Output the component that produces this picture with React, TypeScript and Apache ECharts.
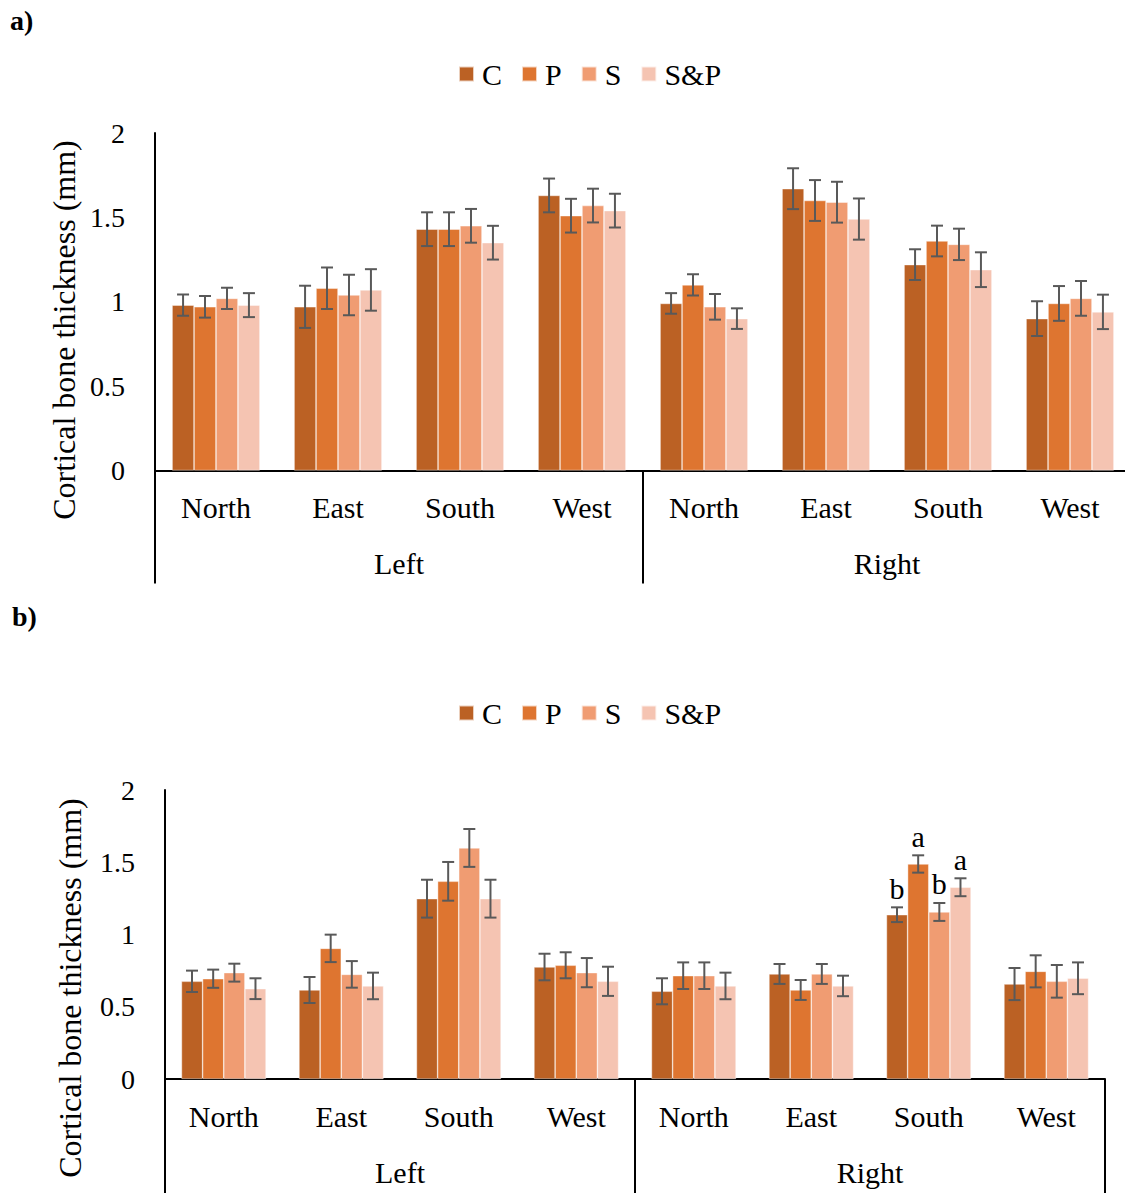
import React, { useEffect, useRef } from "react";
import * as echarts from "echarts";

const subCategories = ["North", "East", "South", "West", "North", "East", "South", "West"];
const groupCategories = ["Left", "Right"];
const seriesNames = ["C", "P", "S", "S&P"];
const colors = ["#BB6124", "#DE7530", "#F09C72", "#F5C4B2"];
const yTicks = [0, 0.5, 1, 1.5, 2];

// Chart a)
const aC = [0.98, 0.97, 1.43, 1.63, 0.99, 1.67, 1.22, 0.90];
const aP = [0.97, 1.08, 1.43, 1.51, 1.10, 1.60, 1.36, 0.99];
const aS = [1.02, 1.04, 1.45, 1.57, 0.97, 1.59, 1.34, 1.02];
const aSP = [0.98, 1.07, 1.35, 1.54, 0.90, 1.49, 1.19, 0.94];
const aCErr = [0.063, 0.125, 0.10, 0.10, 0.061, 0.121, 0.091, 0.103];
const aPErr = [0.064, 0.123, 0.10, 0.10, 0.063, 0.121, 0.091, 0.103];
const aSErr = [0.063, 0.12, 0.10, 0.10, 0.076, 0.121, 0.093, 0.103];
const aSPErr = [0.071, 0.123, 0.10, 0.10, 0.061, 0.122, 0.103, 0.102];

// Chart b)
const bC = [0.676, 0.616, 1.248, 0.775, 0.607, 0.727, 1.137, 0.657];
const bP = [0.694, 0.904, 1.368, 0.787, 0.715, 0.616, 1.488, 0.745];
const bS = [0.736, 0.724, 1.599, 0.736, 0.715, 0.727, 1.156, 0.676];
const bSP = [0.625, 0.644, 1.248, 0.676, 0.644, 0.644, 1.327, 0.697];
const bCErr = [0.074, 0.09, 0.131, 0.092, 0.09, 0.069, 0.051, 0.111];
const bPErr = [0.063, 0.095, 0.134, 0.09, 0.092, 0.069, 0.06, 0.111];
const bSErr = [0.062, 0.092, 0.131, 0.101, 0.092, 0.069, 0.062, 0.113];
const bSPErr = [0.072, 0.092, 0.131, 0.101, 0.092, 0.071, 0.062, 0.11];
const bCLetters = ["", "", "", "", "", "", "b", ""];
const bPLetters = ["", "", "", "", "", "", "a", ""];
const bSLetters = ["", "", "", "", "", "", "b", ""];
const bSPLetters = ["", "", "", "", "", "", "a", ""];
const noLetters = ["", "", "", "", "", "", "", ""];

const FONT = '"Liberation Serif", "Times New Roman", serif';
const GAP = 0.28;

export default function App() {
  const ref = useRef<HTMLDivElement>(null);

  useEffect(() => {
    if (!ref.current) return;
    const chart = echarts.init(ref.current, null, { renderer: "svg" });

    const charts = [
      {
        vals: [aC, aP, aS, aSP],
        errs: [aCErr, aPErr, aSErr, aSPErr],
        letters: [noLetters, noLetters, noLetters, noLetters],
        grid: { left: 155, width: 976, top: 133, height: 337.5 },
        tickLen: 113,
        legendTop: 54,
      },
      {
        vals: [bC, bP, bS, bSP],
        errs: [bCErr, bPErr, bSErr, bSPErr],
        letters: [bCLetters, bPLetters, bSLetters, bSPLetters],
        grid: { left: 165, width: 940, top: 790, height: 289 },
        tickLen: 114,
        legendTop: 693,
      },
    ];

    const grids: any[] = [];
    const xAxes: any[] = [];
    const yAxes: any[] = [];
    const series: any[] = [];
    const legends: any[] = [];

    charts.forEach((c, gi) => {
      grids.push({ ...c.grid, containLabel: false });
      xAxes.push({
        type: "category",
        gridIndex: gi,
        data: subCategories,
        position: "bottom",
        axisLine: { show: true, lineStyle: { color: "#000", width: 2 } },
        axisTick: { show: false },
        axisLabel: { interval: 0, color: "#000", fontFamily: FONT, fontSize: 30, margin: 22 },
      });
      xAxes.push({
        type: "category",
        gridIndex: gi,
        data: groupCategories,
        position: "bottom",
        offset: 0,
        axisLine: { show: false },
        axisTick: { show: true, length: c.tickLen, interval: 0, lineStyle: { color: "#000", width: 2 } },
        axisLabel: { interval: 0, color: "#000", fontFamily: FONT, fontSize: 30, margin: 78 },
      });
      yAxes.push({
        type: "value",
        gridIndex: gi,
        min: yTicks[0],
        max: yTicks[yTicks.length - 1],
        interval: 0.5,
        axisLine: { show: true, lineStyle: { color: "#000", width: 2 } },
        axisTick: { show: false },
        splitLine: { show: false },
        axisLabel: { color: "#000", fontFamily: FONT, fontSize: 28, margin: 30 },
      });
      seriesNames.forEach((name, si) => {
        series.push({
          type: "bar",
          name,
          xAxisIndex: gi * 2,
          yAxisIndex: gi,
          data: c.vals[si],
          barGap: "0%",
          barCategoryGap: GAP * 100 + "%",
          itemStyle: { color: colors[si], borderColor: "rgba(255,255,255,0.7)", borderWidth: 0.6 },
        });
      });
      const errData: number[][] = [];
      for (let s = 0; s < 4; s++) {
        for (let i = 0; i < subCategories.length; i++) {
          errData.push([i, c.vals[s][i], c.errs[s][i], s]);
        }
      }
      const letters = c.letters;
      series.push({
        type: "custom",
        xAxisIndex: gi * 2,
        yAxisIndex: gi,
        z: 10,
        silent: true,
        encode: { x: 0, y: 1 },
        data: errData,
        renderItem: (params: any, api: any) => {
          const ci = api.value(0);
          const v = api.value(1);
          const e = api.value(2);
          const s = api.value(3);
          const band = api.size([1, 0])[0];
          const groupW = band * (1 - GAP);
          const bw = groupW / 4;
          const top = api.coord([ci, v + e]);
          const bot = api.coord([ci, v - e]);
          const x = top[0] - groupW / 2 + bw * (s + 0.5);
          const cap = 6;
          const style = { stroke: "#595959", lineWidth: 2 };
          const children: any[] = [
            { type: "line", shape: { x1: x, y1: top[1], x2: x, y2: bot[1] }, style },
            { type: "line", shape: { x1: x - cap, y1: top[1], x2: x + cap, y2: top[1] }, style },
            { type: "line", shape: { x1: x - cap, y1: bot[1], x2: x + cap, y2: bot[1] }, style },
          ];
          const letter = letters[s][ci];
          if (letter) {
            children.push({
              type: "text",
              x,
              y: top[1] - 4,
              style: {
                text: letter,
                fill: "#000",
                font: `30px ${FONT}`,
                align: "center",
                verticalAlign: "bottom",
              },
            });
          }
          return { type: "group", children };
        },
      });
      legends.push({
        left: 453,
        top: c.legendTop,
        orient: "horizontal",
        data: seriesNames,
        icon: "rect",
        itemWidth: 15,
        itemHeight: 15,
        itemGap: 19,
        selectedMode: false,
        textStyle: { color: "#000", fontFamily: FONT, fontSize: 30, padding: [0, 0, 0, 3] },
      });
    });

    chart.setOption({
      animation: false,
      backgroundColor: "#fff",
      grid: grids,
      xAxis: xAxes,
      yAxis: yAxes,
      legend: legends,
      series,
      graphic: [
        {
          type: "text",
          left: 10,
          top: 6,
          style: { text: "a)", fill: "#000", font: `bold 28px ${FONT}` },
        },
        {
          type: "text",
          left: 12,
          top: 602,
          style: { text: "b)", fill: "#000", font: `bold 28px ${FONT}` },
        },
        {
          type: "text",
          x: 64,
          y: 330,
          rotation: Math.PI / 2,
          style: {
            text: "Cortical bone thickness (mm)",
            fill: "#000",
            font: `32px ${FONT}`,
            align: "center",
            verticalAlign: "middle",
          },
        },
        {
          type: "text",
          x: 70,
          y: 988,
          rotation: Math.PI / 2,
          style: {
            text: "Cortical bone thickness (mm)",
            fill: "#000",
            font: `32px ${FONT}`,
            align: "center",
            verticalAlign: "middle",
          },
        },
      ],
    });

    return () => chart.dispose();
  }, []);

  return (
    <div
      style={{ position: "absolute", left: 0, top: 0, width: 1125, height: 1193, overflow: "hidden", background: "#fff" }}
    >
      <div ref={ref} style={{ width: 1140, height: 1193 }} />
    </div>
  );
}
